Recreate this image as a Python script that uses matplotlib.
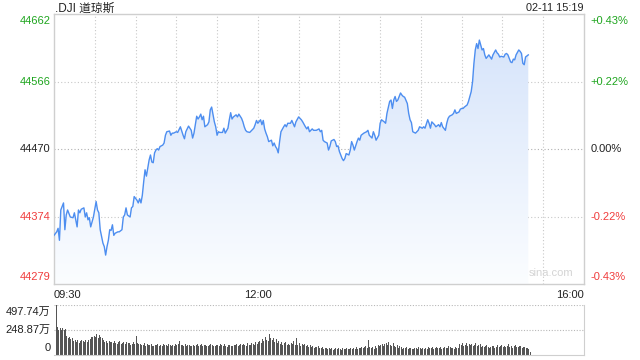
import matplotlib
matplotlib.use('Agg')
import matplotlib.pyplot as plt
import numpy as np
from matplotlib.patches import Polygon
from matplotlib.colors import LinearSegmentedColormap

plt.rcParams['font.family'] = ['Liberation Sans', 'Noto Sans CJK SC', 'DejaVu Sans']

# ---------------- data ----------------
title = '.DJI 道琼斯'
stamp = '02-11 15:19'
prev_close = 44470
y_ticks = [44662, 44566, 44470, 44374, 44279]
pct_labels = ['+0.43%', '+0.22%', '0.00%', '-0.22%', '-0.43%']
x_tick_minutes = [0, 150, 390]
x_tick_labels = ['09:30', '12:00', '16:00']
vol_ticks = [0, 248.87, 497.74]
vol_labels = ['0', '248.87万', '497.74万']

# minutes after 09:30 and index level
minutes = [0, 2, 3, 4, 5, 7, 8, 9, 10, 12, 14, 15, 17, 18, 19, 20, 22, 23, 24, 25,
           26, 27, 29, 31, 32, 33, 34, 36, 37, 38, 39, 40, 41, 42, 43, 44, 45, 47, 48, 50,
           51, 52, 53, 54, 56, 57, 58, 59, 61, 62, 63, 64, 65, 66, 67, 68, 70, 71, 72, 73,
           74, 75, 76, 77, 78, 80, 81, 82, 83, 85, 86, 87, 88,
           90, 91, 93, 95, 96, 97, 99, 101, 102, 103, 104, 105, 106, 107, 108, 109, 110, 111,
           113, 114, 115, 116, 118, 119, 120, 121, 122, 124, 125, 126, 128, 129, 130, 131, 132,
           134, 135, 136, 138, 139, 140, 141, 142, 144, 145, 147, 148, 149, 150, 152, 153, 154,
           155, 156, 157, 158, 160, 161, 162, 163, 164, 165, 166, 167, 169, 170, 171, 172, 174,
           175, 177,
           178, 180, 181, 182, 183, 185, 186, 187, 188, 190, 191, 193, 195, 196, 197, 198, 199,
           201, 202, 203, 204, 206, 207, 208, 209, 210, 212, 213, 214, 215, 217, 218, 219, 220,
           221, 223, 224, 225, 226, 228, 230, 231, 232, 234, 235, 236, 237, 239, 240, 241, 243,
           244, 245, 247, 248, 249, 250, 251, 252, 253, 255, 256, 257, 258, 260, 261, 262, 263,
           264,
           266, 267, 268, 269, 271, 272, 273, 275, 276, 277, 278, 280, 281, 283, 284, 285, 286,
           288, 289, 290, 291, 293, 294, 295, 296, 298, 299, 300, 301, 302, 304, 305, 306, 307,
           308, 309, 310, 311, 312, 313, 314, 315, 316, 317, 318, 320, 321, 322, 323, 325, 326,
           327, 328, 329, 331, 332, 333, 334, 336, 337, 338, 339, 340, 342, 343, 344, 345, 346,
           347, 349]
prices = [44348, 44353, 44358, 44341, 44384, 44394, 44356, 44377, 44384, 44374, 44373, 44380, 44360, 44384, 44380, 44385, 44387, 44374, 44380, 44370,
          44373, 44360, 44374, 44396, 44384, 44380, 44356, 44337, 44332, 44320, 44332, 44341, 44356, 44355, 44363, 44348, 44351, 44353, 44353, 44356,
          44374, 44377, 44387, 44377, 44374, 44387, 44389, 44403, 44398, 44394, 44400, 44394, 44405, 44424, 44441, 44432, 44455, 44462, 44452, 44451,
          44465, 44469, 44471, 44469, 44474, 44476, 44479, 44490, 44495, 44496, 44490, 44493, 44493,
          44495, 44494, 44502, 44490, 44485, 44495, 44503, 44497, 44486, 44493, 44505, 44517, 44513, 44516, 44520, 44512, 44517, 44502,
          44505, 44509, 44526, 44530, 44509, 44502, 44490, 44495, 44494, 44494, 44500, 44493, 44500, 44512, 44522, 44513, 44516,
          44519, 44516, 44520, 44514, 44509, 44502, 44497, 44495, 44494, 44496, 44500, 44505, 44511, 44507, 44512, 44505, 44511,
          44499, 44493, 44488, 44481, 44483, 44475, 44479, 44474, 44471, 44465, 44481, 44495, 44502, 44505, 44502, 44507, 44507,
          44511, 44502,
          44509, 44516, 44514, 44512, 44509, 44502, 44499, 44502, 44495, 44499, 44497, 44497, 44499, 44495, 44497, 44483, 44481,
          44479, 44469, 44474, 44482, 44484, 44481, 44474, 44475, 44467, 44457, 44454, 44457, 44464, 44462, 44469, 44481, 44476,
          44469, 44481, 44486, 44483, 44490, 44493, 44495, 44497, 44490, 44486, 44495, 44490, 44483, 44490, 44507, 44512, 44509,
          44507, 44521, 44538, 44540, 44528, 44540, 44545, 44538, 44540, 44550, 44547, 44545, 44544, 44535, 44521, 44512, 44508,
          44495,
          44493, 44495, 44497, 44502, 44500, 44502, 44500, 44512, 44507, 44500, 44509, 44505, 44502, 44505, 44502, 44508, 44502,
          44497, 44507, 44514, 44517, 44519, 44521, 44526, 44521, 44523, 44527, 44528, 44528, 44530, 44533, 44538, 44545, 44552,
          44566, 44592, 44611, 44620, 44613, 44625, 44618, 44611, 44613, 44604, 44599, 44604, 44601, 44598, 44604, 44611, 44607,
          44605, 44601, 44602, 44601, 44605, 44606, 44604, 44594, 44593, 44598, 44597, 44604, 44611, 44609, 44606, 44592, 44590,
          44601, 44604]

# per-minute volume (万), minutes 0..349
volume = [497, 280, 250, 265, 245, 270, 250, 260, 185, 170,
          180, 160, 170, 140, 150, 130, 145, 120, 135, 150,
          140, 125, 150, 130, 145, 160, 175, 180, 190, 175,
          210, 170, 200, 180, 165, 150, 130, 140, 120, 135,
          125, 130, 115, 140, 120, 110, 125, 135, 110, 120,
          125, 105, 130, 115, 120, 100, 110, 125, 105, 190,
          120, 105, 110, 95, 100, 115, 90, 105, 95, 100,
          110, 90, 85, 100, 95, 105, 90, 100, 85, 110,
          95, 100, 90, 105, 95, 85, 100, 90, 110, 95,
          105, 135, 100, 95, 85, 110, 90, 100, 95, 85,
          90, 100, 85, 95, 110, 90, 100, 105, 85, 95,
          100, 90, 85, 95, 110, 100, 90, 85, 95, 100,
          90, 105, 95, 85, 110, 90, 80, 95, 100, 90,
          85, 100, 95, 110, 90, 100, 105, 95, 110, 100,
          90, 115, 100, 95, 120, 105, 100, 130, 110, 125,
          140, 120, 160, 135, 180, 150, 140, 210, 165, 145,
          170, 130, 155, 120, 140, 110, 125, 100, 115, 130,
          95, 110, 100, 120, 105, 140, 95, 170, 100, 115,
          90, 105, 95, 110, 85, 100, 80, 95, 75, 90,
          70, 80, 75, 85, 70, 65, 75, 60, 70, 65,
          55, 70, 60, 65, 50, 60, 70, 55, 65, 60,
          50, 65, 60, 55, 70, 60, 55, 65, 60, 70,
          55, 75, 60, 65, 70, 80, 65, 75, 85, 70,
          150, 80, 65, 75, 60, 90, 70, 95, 85, 100,
          105, 90, 110, 120, 95, 125, 100, 85, 115, 90,
          80, 95, 70, 85, 75, 60, 70, 65, 75, 55,
          65, 70, 60, 55, 65, 70, 60, 75, 65, 60,
          70, 55, 65, 60, 75, 65, 70, 80, 60, 65,
          75, 70, 65, 80, 60, 70, 75, 65, 70, 85,
          75, 65, 70, 60, 80, 70, 65, 110, 95, 120,
          90, 100, 115, 85, 105, 95, 110, 90, 100, 120,
          85, 95, 105, 80, 90, 75, 85, 95, 80, 70,
          75, 85, 90, 70, 80, 95, 75, 85, 100, 80,
          90, 75, 85, 105, 80, 90, 70, 85, 95, 80,
          75, 90, 85, 70, 80, 75, 65, 70, 60, 30]

# ---------------- styles ----------------
GREEN = '#1ea51e'
RED = '#f03c3c'
BLACK = '#222222'
LINE = '#4d8ef0'
GRID = '#c8c8c8'
SPINE = '#cfcfcf'
label_colors = [GREEN, GREEN, BLACK, RED, RED]

W, H = 640, 360
fig = plt.figure(figsize=(6.4, 3.6), dpi=100)


def rect(l, t, r, b):
    return [l / W, 1 - b / H, (r - l) / W, (b - t) / H]


ax = fig.add_axes(rect(54, 14, 584, 284))
axv = fig.add_axes(rect(54, 305, 584, 355))

ylo, yhi = y_ticks[-1], y_ticks[0]
ax.set_xlim(0, 390)
ax.set_ylim(ylo, yhi)
ax.set_xticks([])
ax.set_yticks([])
for s in ax.spines.values():
    s.set_color(SPINE)
    s.set_linewidth(1.0)

for m in range(30, 390, 30):
    ax.axvline(m, color=GRID, lw=0.8, ls=(0, (1, 2)), zorder=0.5)
for v in y_ticks[1:-1]:
    ax.axhline(v, color='#b0b0b0' if v == prev_close else GRID, lw=0.8,
               ls=(0, (1, 2)), zorder=0.5)

# gradient fill under the line
verts = [(minutes[0], ylo)] + list(zip(minutes, prices)) + [(minutes[-1], ylo)]
poly = Polygon(verts, closed=True, facecolor='none', edgecolor='none')
ax.add_patch(poly)
grad = np.linspace(0, 1, 256).reshape(-1, 1)
cmap = LinearSegmentedColormap.from_list('g', ['#fbfdff', '#d3e2fa'])
im = ax.imshow(grad, extent=[0, 390, ylo, yhi], aspect='auto', cmap=cmap,
               origin='lower', zorder=1, interpolation='bilinear')
im.set_clip_path(poly)
ax.plot(minutes, prices, color=LINE, lw=1.0, zorder=3)

# y labels (left and right)
n = len(y_ticks)
for i, (v, pl, c) in enumerate(zip(y_ticks, pct_labels, label_colors)):
    va = 'top' if i == 0 else ('bottom' if i == n - 1 else 'center')
    dy = -1.5 if i == 0 else (1.5 if i == n - 1 else 0)
    ax.annotate(str(v), xy=(0, v), xycoords=('axes fraction', 'data'),
                xytext=(-2.5, dy), textcoords='offset points',
                ha='right', va=va, color=c, fontsize=8)
    ax.annotate(pl, xy=(1, v), xycoords=('axes fraction', 'data'),
                xytext=(4.5, dy), textcoords='offset points',
                ha='left', va=va, color=c, fontsize=8)

# x labels
for m, lbl, ha in zip(x_tick_minutes, x_tick_labels, ['left', 'center', 'right']):
    ax.annotate(lbl, xy=(m, 0), xycoords=('data', 'axes fraction'),
                xytext=(0, -4), textcoords='offset points',
                ha=ha, va='top', color=BLACK, fontsize=8)

# watermark
ax.text(0.979, 0.022, 'sina.com', transform=ax.transAxes, ha='right', va='bottom',
        color='#d4d4d4', fontsize=8, zorder=2)

# titles
fig.text(55 / W, 1 - 8.5 / H, title, ha='left', va='center', fontsize=8.5, color=BLACK)
fig.text(584 / W, 1 - 8 / H, stamp, ha='right', va='center', fontsize=7.8, color=BLACK)

# ---------------- volume ----------------
axv.set_xlim(0, 390)
axv.set_ylim(0, vol_ticks[-1])
vx = np.arange(len(volume)) + 1.5
axv.bar(vx, volume, width=0.75, color='#555555', linewidth=0, zorder=2,
        antialiased=False)
axv.set_xticks([])
axv.set_yticks([])
axv.spines['top'].set_visible(False)
axv.spines['left'].set_visible(False)
for k in ['right', 'bottom']:
    axv.spines[k].set_color(SPINE)
for v in vol_ticks[1:]:
    axv.axhline(v, color='#b8b8b8', lw=0.8, ls=(0, (1, 1.5)), zorder=0.5)
nv = len(vol_ticks)
for i, (v, lbl) in enumerate(zip(vol_ticks, vol_labels)):
    va = 'bottom' if i == 0 else ('top' if i == nv - 1 else 'center')
    dy = 1.5 if i == 0 else (-1.5 if i == nv - 1 else 0)
    axv.annotate(lbl, xy=(0, v), xycoords=('axes fraction', 'data'),
                 xytext=(-2.5, dy), textcoords='offset points',
                 ha='right', va=va, color=BLACK, fontsize=8)

fig.savefig('out.png', dpi=100)
